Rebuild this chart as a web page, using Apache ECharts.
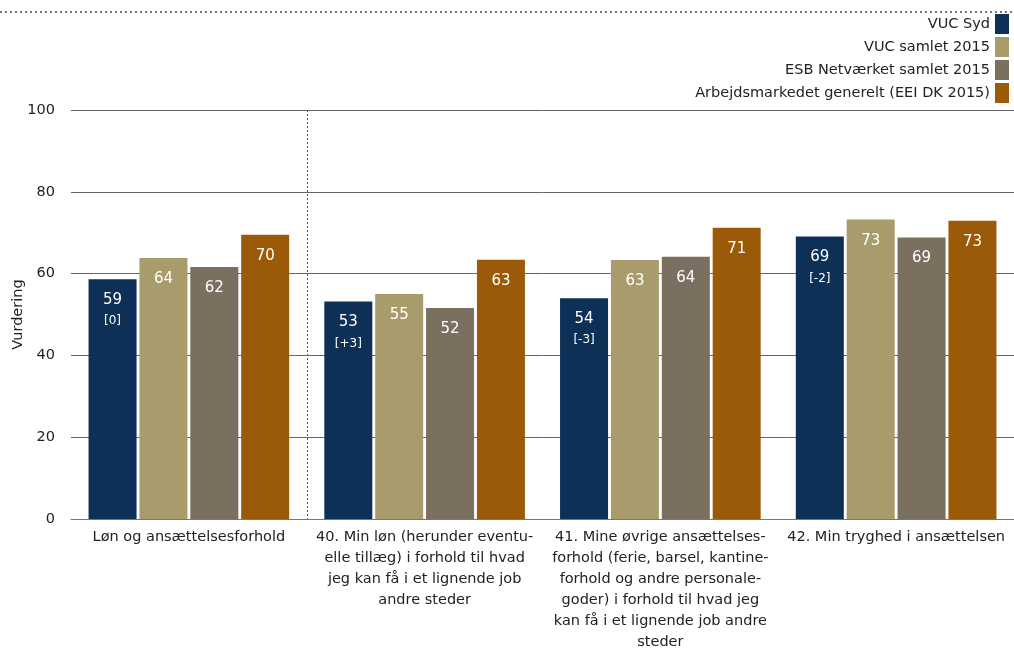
<!DOCTYPE html>
<html>
<head>
<meta charset="utf-8">
<script src="https://cdn.jsdelivr.net/npm/echarts@6/dist/echarts.min.js"></script>
<style>
  html, body { margin: 0; padding: 0; background: #fff; }
  #chart { width: 1014px; height: 648px; }
</style>
</head>
<body>
<div id="chart"></div>
<script>
// kategorier (med linjeskift som i originalen)
var categories = [
  'Løn og ansættelsesforhold',
  '40. Min løn (herunder eventu-\nelle tillæg) i forhold til hvad\njeg kan få i et lignende job\nandre steder',
  '41. Mine øvrige ansættelses-\nforhold (ferie, barsel, kantine-\nforhold og andre personale-\ngoder) i forhold til hvad jeg\nkan få i et lignende job andre\nsteder',
  '42. Min tryghed i ansættelsen'
];
var seriesNames = ['VUC Syd', 'VUC samlet 2015', 'ESB Netværket samlet 2015', 'Arbejdsmarkedet generelt (EEI DK 2015)'];
var vucSyd   = [58.6, 53.2, 54.0, 69.1];
var vucAll   = [63.8, 55.0, 63.3, 73.2];
var esb      = [61.6, 51.6, 64.1, 68.8];
var arbejde  = [69.5, 63.4, 71.2, 72.9];
var deltas   = ['[0]', '[+3]', '[-3]', '[-2]'];
var yTicks   = [0, 20, 40, 60, 80, 100];

var colors = ['#0d3056', '#a89c6d', '#7b6f60', '#9a5a07'];
var font = '"DejaVu Sans", sans-serif';

var myChart = echarts.init(document.getElementById('chart'));

function mkSeries(name, data, idx) {
  return {
    name: name,
    type: 'bar',
    data: data,
    barWidth: 48,
    barGap: '6%',
    itemStyle: { color: colors[idx] },
    label: {
      show: true,
      position: 'insideTop',
      distance: 11,
      color: '#fff',
      fontFamily: font,
      fontSize: 15,
      lineHeight: 20,
      formatter: function(p) {
        var v = Math.round(p.value);
        if (idx === 0) return v + '\n{s|' + deltas[p.dataIndex] + '}';
        return '' + v;
      },
      rich: { s: { fontSize: 12, color: '#fff', fontFamily: font, lineHeight: 22 } }
    }
  };
}

var option = {
  animation: false,
  textStyle: { fontFamily: font },
  color: colors,
  legend: {
    orient: 'vertical',
    right: 0,
    top: 9,
    align: 'right',
    itemWidth: 14,
    itemHeight: 20,
    itemGap: 3,
    icon: 'rect',
    textStyle: { fontSize: 14.5, color: '#222', fontFamily: font },
    data: seriesNames
  },
  grid: { left: 71, right: 0, top: 110, bottom: 129, outerBoundsMode: 'none' },
  xAxis: {
    type: 'category',
    data: categories,
    axisLine: { lineStyle: { color: '#777' } },
    axisTick: { show: false },
    axisLabel: {
      interval: 0,
      color: '#222',
      fontSize: 14.5,
      lineHeight: 21,
      margin: 8,
      fontFamily: font
    }
  },
  yAxis: {
    type: 'value',
    min: yTicks[0],
    max: yTicks[yTicks.length - 1],
    interval: 20,
    name: 'Vurdering',
    nameLocation: 'middle',
    nameGap: 45,
    nameMoveOverlap: false,
    nameTextStyle: { fontSize: 14.5, color: '#222', fontFamily: font },
    axisLine: { show: false },
    axisTick: { show: false },
    axisLabel: { color: '#222', fontSize: 14.5, margin: 16, fontFamily: font },
    splitLine: { lineStyle: { color: '#666', width: 1 } }
  },
  series: [
    mkSeries(seriesNames[0], vucSyd, 0),
    mkSeries(seriesNames[1], vucAll, 1),
    mkSeries(seriesNames[2], esb, 2),
    mkSeries(seriesNames[3], arbejde, 3)
  ]
};

myChart.setOption(option);

// stiplet skillelinje mellem første og anden kategori + stiplet linje øverst
var x0 = myChart.convertToPixel({ xAxisIndex: 0 }, 0);
var x1 = myChart.convertToPixel({ xAxisIndex: 0 }, 1);
var sepX = Math.round((x0 + x1) / 2) + 0.5;
var yTop = myChart.convertToPixel({ yAxisIndex: 0 }, yTicks[yTicks.length - 1]);
var yBot = myChart.convertToPixel({ yAxisIndex: 0 }, yTicks[0]);
myChart.setOption({
  graphic: [
    {
      type: 'line',
      shape: { x1: sepX, y1: yTop, x2: sepX, y2: yBot },
      style: { stroke: '#555', lineWidth: 1, lineDash: [2, 2] }
    },
    {
      type: 'line',
      shape: { x1: 0, y1: 12, x2: 1014, y2: 12 },
      style: { stroke: '#777', lineWidth: 2, lineDash: [2, 3] }
    }
  ]
});
</script>
</body>
</html>
